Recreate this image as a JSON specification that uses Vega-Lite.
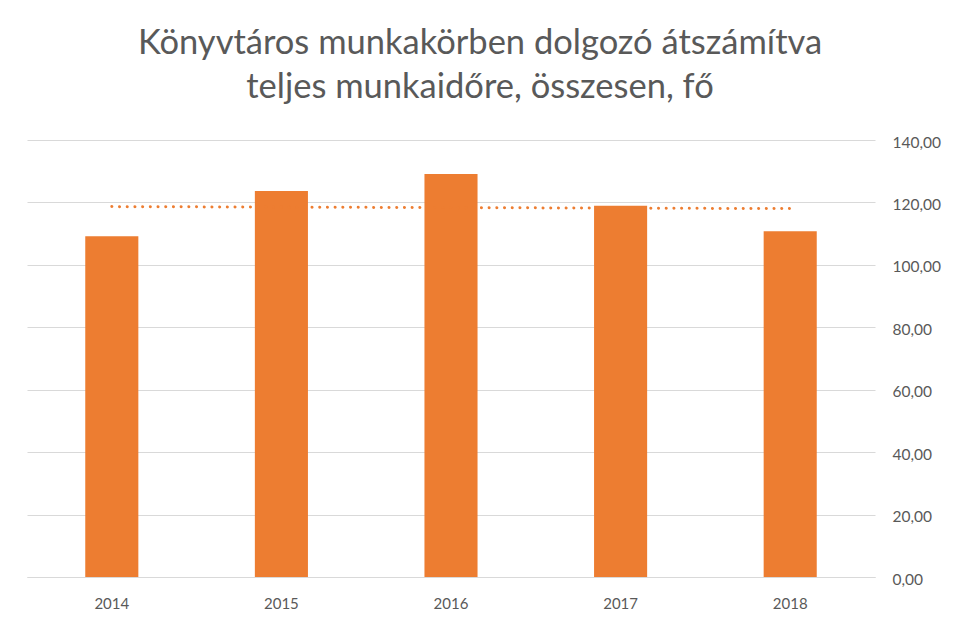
{
  "$schema": "https://vega.github.io/schema/vega-lite/v6.json",
  "autosize": {"type": "none"},
  "width": 848,
  "height": 437,
  "padding": {"left": 27, "top": 140, "right": 78, "bottom": 45},
  "background": "white",
  "config": {
    "font": "Lato",
    "view": {"stroke": null},
    "locale": {"number": {"decimal": ",", "thousands": " ", "grouping": [3], "currency": ["", ""]}}
  },
  "title": {
    "text": ["Könyvtáros munkakörben dolgozó átszámítva", "teljes munkaidőre, összesen, fő"],
    "font": "Lato",
    "fontSize": 34.5,
    "fontWeight": "normal",
    "color": "#595959",
    "lineHeight": 44,
    "anchor": "middle",
    "dx": 29,
    "offset": 30
  },
  "data": {
    "values": [
      {"year": 2014, "value": 109.2},
      {"year": 2015, "value": 123.7},
      {"year": 2016, "value": 129.1},
      {"year": 2017, "value": 118.9},
      {"year": 2018, "value": 110.8}
    ]
  },
  "layer": [
    {
      "mark": {"type": "bar", "color": "#ED7D31"},
      "encoding": {
        "x": {
          "field": "year",
          "type": "ordinal",
          "scale": {"paddingInner": 0.687, "paddingOuter": 0.3435},
          "axis": {
            "title": null,
            "labelAngle": 0,
            "labelFont": "Lato",
            "labelFontSize": 15,
            "labelColor": "#595959",
            "labelPadding": 19,
            "ticks": false,
            "domainColor": "#D9D9D9",
            "domainWidth": 1,
            "grid": false
          }
        },
        "y": {
          "field": "value",
          "type": "quantitative",
          "scale": {"domain": [0, 140]},
          "axis": {
            "orient": "right",
            "title": null,
            "values": [0, 20, 40, 60, 80, 100, 120, 140],
            "format": ".2f",
            "labelFont": "Lato",
            "labelFontSize": 15.5,
            "labelColor": "#595959",
            "labelPadding": 17,
            "labelOffset": 2,
            "labelAlign": "left",
            "ticks": false,
            "domain": false,
            "grid": true,
            "gridColor": "#D9D9D9",
            "gridWidth": 1
          }
        }
      }
    },
    {
      "transform": [
        {"regression": "value", "on": "year", "method": "linear", "extent": [2014, 2018]}
      ],
      "mark": {
        "type": "line",
        "color": "#ED7D31",
        "strokeWidth": 3,
        "strokeCap": "round",
        "strokeDash": [0.1, 7.6]
      },
      "encoding": {
        "x": {"field": "year", "type": "ordinal"},
        "y": {"field": "value", "type": "quantitative"}
      }
    }
  ]
}
